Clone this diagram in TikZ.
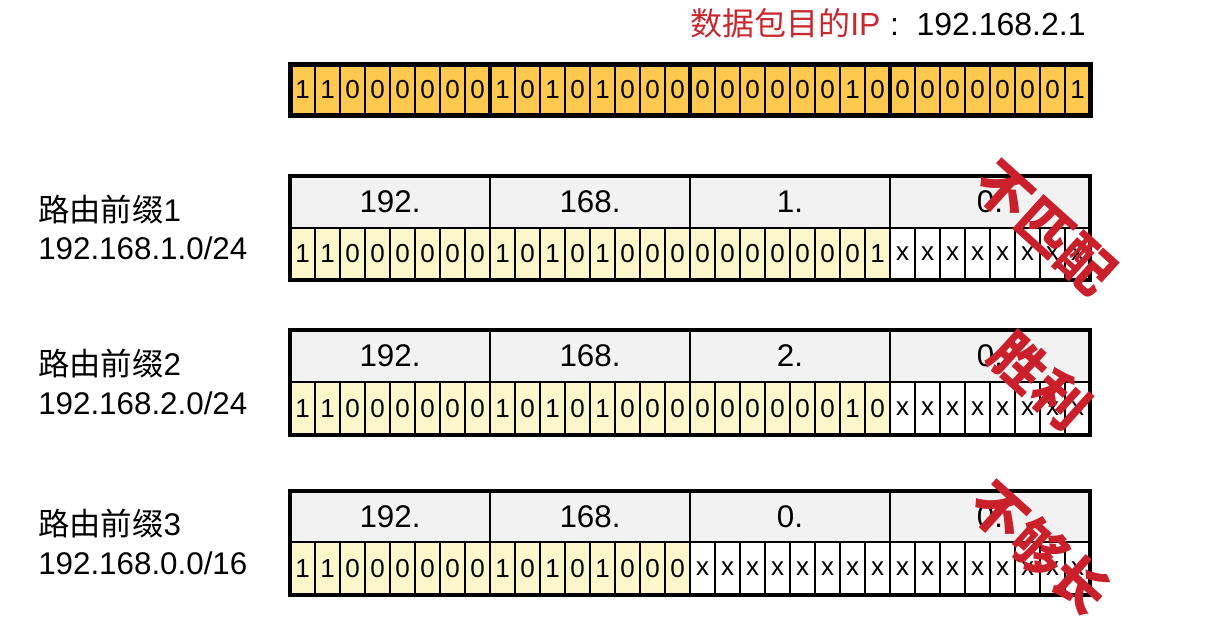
\documentclass[tikz,border=0pt]{standalone}
\usepackage{fontspec}
\setmainfont{Liberation Sans}
\newfontfamily\cjk{Noto Sans CJK SC}
\definecolor{ipred}{HTML}{C8282D}
\definecolor{bitorange}{HTML}{FFC94F}
\definecolor{bityellow}{HTML}{FBF7CA}
\definecolor{headgray}{HTML}{F2F2F2}
\definecolor{stampred}{HTML}{C9202C}
\tikzset{
  bittext/.style={inner sep=0pt,font=\fontsize{19.5}{19.5}\selectfont},
  headtext/.style={inner sep=0pt,font=\fontsize{23.5}{23.5}\selectfont},
  prefixtext/.style={inner sep=0pt,anchor=west,align=left,font=\fontsize{23.5}{29}\selectfont},
  titletext/.style={inner sep=0pt,anchor=west,text=ipred,font=\fontsize{24}{24}\selectfont},
  stamp/.style={inner sep=0pt,rotate=-42,text=stampred,font=\cjk\bfseries\fontsize{41}{41}\selectfont},
  sepline/.style={line width=1.5pt},
  boxline/.style={line width=3pt}
}
\begin{document}
\begin{tikzpicture}[x=0.75pt,y=-0.75pt]
  \useasboundingbox (0,0) rectangle (1217,619);
  % destination address of the packet
  \node[titletext] (dest) at (690,23) {{\cjk 数据包目的}IP\hspace{0.3em}\color{black}:\hspace{0.55em}192.168.2.1};
  \fill[bitorange] (290,64.5) rectangle (1090,115.5);
  \foreach \b [count=\i from 0] in {1,1,0,0,0,0,0,0,1,0,1,0,1,0,0,0,0,0,0,0,0,0,1,0,0,0,0,0,0,0,0,1}
    \node[bittext] (ip-\i) at (302.5+25*\i,90) {\b};
  \foreach \i in {1,...,31} \draw[sepline] (290+25*\i,64.5) -- ++(0,51);
  \foreach \j in {1,2,3} \draw[boxline] (290+200*\j,64.5) -- ++(0,51);
  \draw[line width=3.75pt] (290,64.5) rectangle (1090,115.5);
  % routing prefixes
  \foreach \row/\ytop/\ymid/\ybot/\oct/\plen/\bits in {
      1/175.5/227.5/280/1./24/{1,1,0,0,0,0,0,0,1,0,1,0,1,0,0,0,0,0,0,0,0,0,0,1},
      2/330/382/435/2./24/{1,1,0,0,0,0,0,0,1,0,1,0,1,0,0,0,0,0,0,0,0,0,1,0},
      3/491/542/595/0./16/{1,1,0,0,0,0,0,0,1,0,1,0,1,0,0,0}} {
    \fill[headgray] (290,\ytop) rectangle (1090,\ymid);
    \fill[bityellow] (290,\ymid) rectangle (290+25*\plen,\ybot);
    \foreach \h [count=\j from 0] in {192.,168.,\oct,0.}
      \node[headtext] (p\row-head-\j) at (390+200*\j,{(\ytop+\ymid)/2}) {\h};
    \foreach \b [count=\i from 0] in \bits
      \node[bittext] (p\row-bit-\i) at (302.5+25*\i,{(\ymid+\ybot)/2}) {\b};
    \foreach \i in {\plen,...,31}
      \node[bittext] (p\row-bit-\i) at (302.5+25*\i,{(\ymid+\ybot)/2}) {x};
    \foreach \i in {1,...,31} \draw[sepline] (290+25*\i,\ymid) -- (290+25*\i,\ybot);
    \foreach \j in {1,2,3} \draw[sepline] (290+200*\j,\ytop) -- (290+200*\j,\ymid);
    \draw[sepline] (290,\ymid) -- (1090,\ymid);
    \draw[boxline] (290,\ytop) rectangle (1090,\ybot);
    \node[prefixtext] (p\row-label) at (38,\ymid) {{\cjk 路由前缀}\row\\192.168.\oct 0/\plen};
  }
  % verdicts
  \node[stamp] (nomatch) at (1045,228) {不匹配};
  \node[stamp] (win) at (1040,381) {胜利};
  \node[stamp] (tooshort) at (1040,548) {不够长};
\end{tikzpicture}
\end{document}
